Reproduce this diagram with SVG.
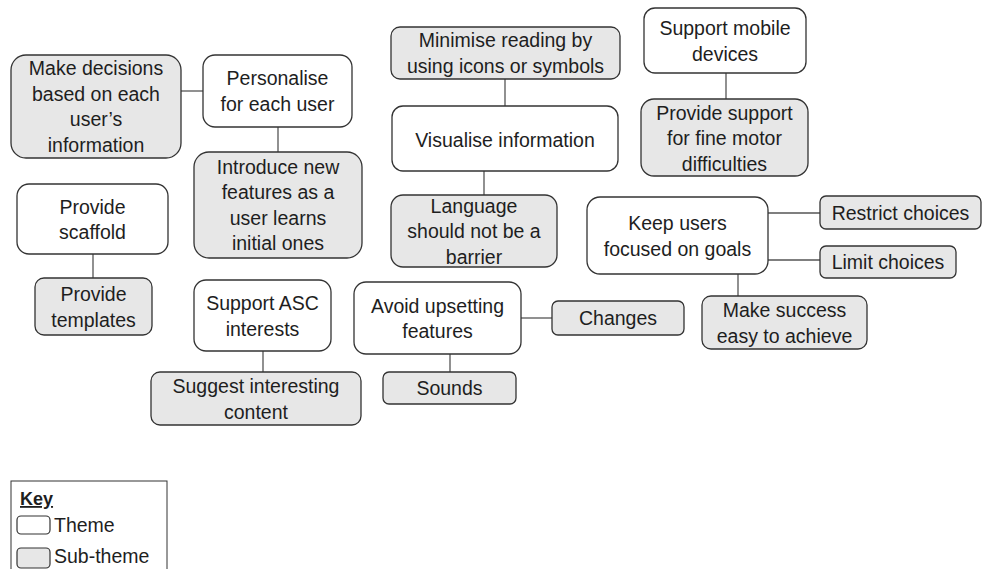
<svg xmlns="http://www.w3.org/2000/svg" width="982" height="569" viewBox="0 0 982 569">
  <style>
    .box { stroke: #333333; stroke-width: 1.3; }
    .theme .box { fill: #ffffff; }
    .sub .box { fill: #e7e7e7; }
    text { font-family: "Liberation Sans", Arial, sans-serif; font-size: 19.5px; fill: #1e1e1e; text-anchor: middle; }
    .conn line { stroke: #555555; stroke-width: 1.3; }
    .key text { text-anchor: start; }
  </style>

  <!-- connectors -->
  <g id="connectors" class="conn">
    <line x1="181" y1="91" x2="203" y2="91"/>
    <line x1="278" y1="127" x2="278" y2="152"/>
    <line x1="93" y1="254" x2="93" y2="278"/>
    <line x1="263" y1="351" x2="263" y2="372"/>
    <line x1="505" y1="79" x2="505" y2="106"/>
    <line x1="484" y1="171" x2="484" y2="195"/>
    <line x1="521" y1="318" x2="552" y2="318"/>
    <line x1="450" y1="354" x2="450" y2="372"/>
    <line x1="726" y1="73" x2="726" y2="99"/>
    <line x1="768" y1="213" x2="820" y2="213"/>
    <line x1="768" y1="260" x2="820" y2="260"/>
    <line x1="738" y1="274" x2="738" y2="296"/>
  </g>

  <!-- personalisation -->
  <g id="n-decisions" class="sub">
    <rect class="box" x="11" y="55" width="170" height="103" rx="15"/>
    <text x="96" y="75">Make decisions</text>
    <text x="96" y="100.5">based on each</text>
    <text x="96" y="126">user’s</text>
    <text x="96" y="151.5">information</text>
  </g>
  <g id="n-personalise" class="theme">
    <rect class="box" x="203" y="55" width="149" height="72" rx="12"/>
    <text x="277.5" y="85">Personalise</text>
    <text x="277.5" y="110.5">for each user</text>
  </g>
  <g id="n-introduce" class="sub">
    <rect class="box" x="194" y="152" width="168" height="106" rx="15"/>
    <text x="278" y="173.5">Introduce new</text>
    <text x="278" y="199">features as a</text>
    <text x="278" y="224.5">user learns</text>
    <text x="278" y="250">initial ones</text>
  </g>

  <!-- scaffold -->
  <g id="n-scaffold" class="theme">
    <rect class="box" x="17" y="184" width="151" height="70" rx="12"/>
    <text x="92.5" y="213.5">Provide</text>
    <text x="92.5" y="239">scaffold</text>
  </g>
  <g id="n-templates" class="sub">
    <rect class="box" x="35" y="278" width="117" height="57" rx="9"/>
    <text x="93.5" y="301">Provide</text>
    <text x="93.5" y="326.5">templates</text>
  </g>

  <!-- interests -->
  <g id="n-asc" class="theme">
    <rect class="box" x="194" y="280" width="137" height="71" rx="12"/>
    <text x="262.5" y="310">Support ASC</text>
    <text x="262.5" y="335.5">interests</text>
  </g>
  <g id="n-suggest" class="sub">
    <rect class="box" x="151" y="372" width="210" height="53" rx="9"/>
    <text x="256" y="393">Suggest interesting</text>
    <text x="256" y="418.5">content</text>
  </g>

  <!-- visual information -->
  <g id="n-minimise" class="sub">
    <rect class="box" x="391" y="27" width="229" height="52" rx="9"/>
    <text x="505.5" y="47">Minimise reading by</text>
    <text x="505.5" y="72.5">using icons or symbols</text>
  </g>
  <g id="n-visualise" class="theme">
    <rect class="box" x="392" y="106" width="226" height="65" rx="11"/>
    <text x="505" y="146.5">Visualise information</text>
  </g>
  <g id="n-language" class="sub">
    <rect class="box" x="391" y="195" width="166" height="72" rx="12"/>
    <text x="474" y="212.5">Language</text>
    <text x="474" y="238">should not be a</text>
    <text x="474" y="263.5">barrier</text>
  </g>

  <!-- upsetting features -->
  <g id="n-avoid" class="theme">
    <rect class="box" x="354" y="282" width="167" height="72" rx="12"/>
    <text x="437.5" y="312.5">Avoid upsetting</text>
    <text x="437.5" y="338">features</text>
  </g>
  <g id="n-changes" class="sub">
    <rect class="box" x="552" y="301" width="132" height="34" rx="6"/>
    <text x="618" y="325">Changes</text>
  </g>
  <g id="n-sounds" class="sub">
    <rect class="box" x="383" y="372" width="133" height="32" rx="6"/>
    <text x="449.5" y="395">Sounds</text>
  </g>

  <!-- mobile devices -->
  <g id="n-mobile" class="theme">
    <rect class="box" x="644" y="8" width="162" height="65" rx="11"/>
    <text x="725" y="35">Support mobile</text>
    <text x="725" y="60.5">devices</text>
  </g>
  <g id="n-motor" class="sub">
    <rect class="box" x="641" y="99" width="167" height="77" rx="13"/>
    <text x="724.5" y="119.5">Provide support</text>
    <text x="724.5" y="145">for fine motor</text>
    <text x="724.5" y="170.5">difficulties</text>
  </g>

  <!-- goals -->
  <g id="n-focus" class="theme">
    <rect class="box" x="587" y="197" width="181" height="77" rx="13"/>
    <text x="677.5" y="230">Keep users</text>
    <text x="677.5" y="255.5">focused on goals</text>
  </g>
  <g id="n-restrict" class="sub">
    <rect class="box" x="820" y="196" width="161" height="33" rx="6"/>
    <text x="900.5" y="219.5">Restrict choices</text>
  </g>
  <g id="n-limit" class="sub">
    <rect class="box" x="820" y="246" width="136" height="32" rx="6"/>
    <text x="888" y="269">Limit choices</text>
  </g>
  <g id="n-success" class="sub">
    <rect class="box" x="702" y="296" width="165" height="53" rx="9"/>
    <text x="784.5" y="317">Make success</text>
    <text x="784.5" y="342.5">easy to achieve</text>
  </g>

  <!-- legend -->
  <g id="key" class="key">
    <rect x="11" y="481" width="156" height="100" fill="#ffffff" stroke="#333333" stroke-width="1"/>
    <text x="20" y="505" font-weight="bold" text-decoration="underline" style="font-size:18px">Key</text>
    <rect x="17" y="516" width="33" height="18" rx="4" fill="#ffffff" stroke="#333333" stroke-width="1.2"/>
    <text x="54" y="532">Theme</text>
    <rect x="17" y="548" width="33" height="20" rx="4" fill="#e7e7e7" stroke="#333333" stroke-width="1.2"/>
    <text x="54" y="563">Sub-theme</text>
  </g>
</svg>
